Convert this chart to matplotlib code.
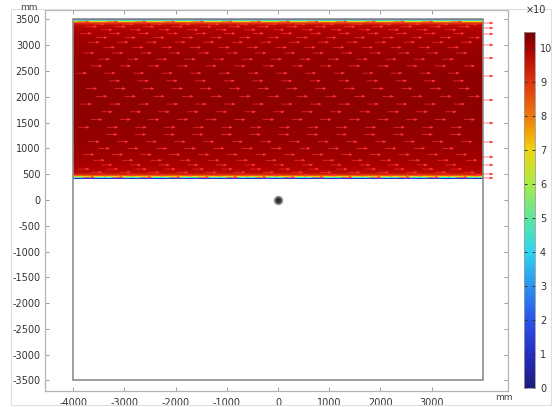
import numpy as np
import matplotlib
matplotlib.use("Agg")
import matplotlib.pyplot as plt
from matplotlib.colors import LinearSegmentedColormap
from matplotlib.patches import Rectangle

# ---- data ----
x_ticks = [-4000, -3000, -2000, -1000, 0, 1000, 2000, 3000]
y_ticks = [-3500, -3000, -2500, -2000, -1500, -1000, -500, 0, 500, 1000, 1500, 2000, 2500, 3000, 3500]
cbar_ticks = [0, 1, 2, 3, 4, 5, 6, 7, 8, 9, 10]
domain_x = [-4000, 4000]
domain_y = [-3500, 3500]
field_y = [400, 3500]
# speed profile vs distance from the wall (mm)
wall_dist = [0, 12, 25, 40, 55, 70, 90, 120, 200, 400, 800, 1550]
wall_speed = [0.3, 1.5, 4.0, 6.3, 7.6, 8.6, 9.3, 9.7, 9.95, 10.1, 10.2, 10.25]
# arrow rows inside the domain (y, mm) and start offsets (x, mm)
arrow_rows = [3455, 3410, 3360, 3300, 3230, 3150, 3060, 2960, 2850, 2730, 2600, 2460, 2310,
              2160, 2010, 1860, 1710, 1560, 1410, 1270, 1130, 1000, 880, 770, 680, 600, 535, 480, 440]
arrow_offsets = [-3900, -3600, -3750, -3450, -3850, -3550, -3700, -3400, -3800, -3500,
                 -3650, -3950, -3300, -3750, -3550, -3850, -3450, -3650, -3900, -3350,
                 -3700, -3500, -3800, -3600, -3450, -3900, -3650, -3550, -3800]
arrow_step = 560
# outlet arrows at the right edge (y, mm)
outlet_y = [3432, 3335, 3219, 3006, 2753, 2404, 1939, 1493, 1125, 834, 679, 504, 427]
point_xy = (0, 0)

cmap = LinearSegmentedColormap.from_list("comsol_rainbow", [
    (0.0 / 10.5, (0.11, 0.11, 0.48)),
    (1.0 / 10.5, (0.15, 0.18, 0.78)),
    (2.0 / 10.5, (0.17, 0.33, 0.92)),
    (3.0 / 10.5, (0.17, 0.58, 0.93)),
    (4.0 / 10.5, (0.18, 0.84, 0.95)),
    (5.0 / 10.5, (0.36, 0.90, 0.62)),
    (6.0 / 10.5, (0.66, 0.92, 0.28)),
    (7.0 / 10.5, (0.93, 0.84, 0.05)),
    (7.5 / 10.5, (0.95, 0.66, 0.02)),
    (8.0 / 10.5, (0.93, 0.48, 0.05)),
    (9.0 / 10.5, (0.88, 0.20, 0.05)),
    (10.0 / 10.5, (0.68, 0.0, 0.0)),
    (10.5 / 10.5, (0.45, 0.0, 0.0)),
])
vmin, vmax = 0.0, 10.5

W, H = 552, 407
fig = plt.figure(figsize=(W / 100, H / 100), dpi=100)

def fx(px):
    return px / W

def fy(py):
    return 1 - py / H

ax = fig.add_axes([fx(44.5), fy(391), fx(508) - fx(44.5), fy(10) - fy(391)])
ax.set_xlim(-4561, 4492)
ax.set_ylim(-3704, 3684)

# field
ys = np.linspace(field_y[0], field_y[1], 1200)
d = np.minimum(ys - field_y[0], field_y[1] - ys)
prof = np.interp(d, wall_dist, wall_speed)
img = np.tile(prof[:, None], (1, 2))
im = ax.imshow(img, extent=[domain_x[0], domain_x[1], field_y[0], field_y[1]], origin="lower",
               cmap=cmap, vmin=vmin, vmax=vmax, aspect="auto", interpolation="nearest", zorder=1)

# domain outline
ax.add_patch(Rectangle((domain_x[0], domain_y[0]), domain_x[1] - domain_x[0], domain_y[1] - domain_y[0],
                       fill=False, ec="#8c8c8c", lw=1.2, zorder=3))

astyle = dict(arrowstyle="-|>,head_length=0.18,head_width=0.07",
              color="#ff3333", lw=0.5, shrinkA=0, shrinkB=0, alpha=0.9)
# arrows inside
alen = 220
for yr, off in zip(arrow_rows, arrow_offsets):
    xs = np.arange(off, domain_x[1] - alen, arrow_step)
    for xa in xs:
        ax.annotate("", xy=(xa + alen, yr), xytext=(xa, yr), arrowprops=astyle, zorder=4)
# outlet arrows
for yo in outlet_y:
    ax.annotate("", xy=(domain_x[1] + 210, yo), xytext=(domain_x[1], yo), arrowprops=astyle, zorder=4)

# point
ax.plot([point_xy[0]], [point_xy[1]], "o", ms=5.5, mfc="#333333", mec="#8a8a8a", mew=1.2, zorder=5)

# axes styling
for s in ax.spines.values():
    s.set_color("#b4b4b4")
    s.set_linewidth(0.9)
ax.set_xticks(x_ticks)
ax.set_yticks(y_ticks)
ax.set_xticklabels([str(v) for v in x_ticks])
ax.set_yticklabels([str(v) for v in y_ticks])
ax.tick_params(direction="in", length=3, width=0.7, color="#9a9a9a", labelsize=7,
               labelcolor="#333333", top=True, right=True, pad=3)
ax.tick_params(axis="x", pad=5)

fig.text(fx(20), fy(8), "mm", fontsize=6.5, color="#444444", va="center", ha="left")
fig.text(fx(495), fy(398), "mm", fontsize=6.5, color="#444444", va="center", ha="left")

# colorbar
cax = fig.add_axes([fx(523.5), fy(388), fx(534.5) - fx(523.5), fy(31.5) - fy(388)])
cb = fig.colorbar(im, cax=cax, ticks=cbar_ticks)
cb.outline.set_edgecolor("#9a9a9a")
cb.outline.set_linewidth(0.6)
cax.tick_params(direction="in", length=2.5, width=0.7, color="#333333", labelsize=7,
                labelcolor="#333333", left=True, right=True, pad=4)
fig.text(fx(526), fy(10), "×10", fontsize=7, color="#333333", va="center", ha="left")

# outer panel border
fig.patches.append(Rectangle((fx(11), fy(405)), fx(551) - fx(11), fy(9) - fy(405),
                             transform=fig.transFigure, fill=False, ec="#dedede", lw=0.8))

fig.savefig("out.png", dpi=100)
